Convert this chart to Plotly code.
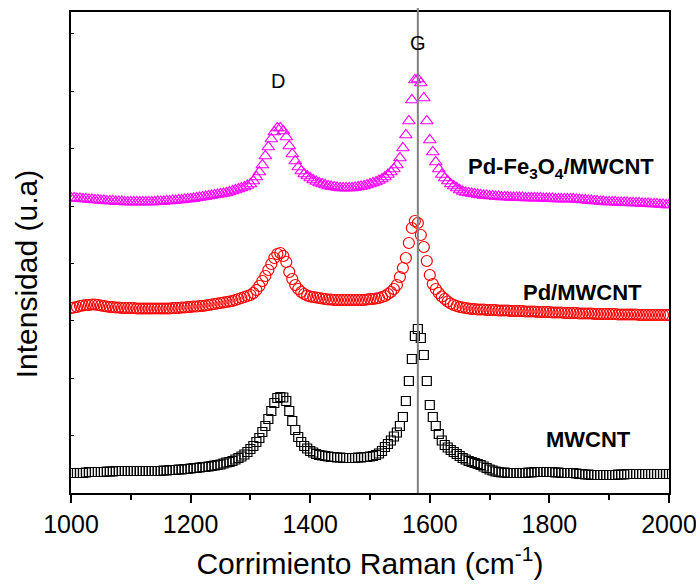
import plotly.graph_objects as go

# Raman shift (cm^-1), 5 cm^-1 spacing
raman_shift = list(range(1000, 2001, 5))

# Stacked intensities (a.u., offset per sample)
mwcnt = [
    20, 20, 20, 20, 20, 20.5, 21, 21, 21, 21,
    21, 21, 21.5, 21.5, 21.5, 22, 22, 22, 22, 22,
    22, 22, 22, 22, 22, 22, 22, 22, 22, 22,
    22, 22.5, 22.5, 23, 23, 23, 23.5, 23.5, 24, 24,
    24.5, 25, 25, 25.5, 26, 26, 26.5, 27, 27.5, 28,
    28.5, 29.5, 30.5, 31, 32, 33.5, 35, 36.5, 38.5, 41,
    44, 47, 51, 55, 61, 67, 74, 82, 90, 95,
    96, 95.5, 92, 82, 72, 63, 56, 51, 47, 44.5,
    42, 40.5, 39, 38, 37.5, 37, 36.5, 36, 36, 35.5,
    35.5, 35, 35, 35, 35, 35, 35.5, 35.5, 36, 36,
    36.5, 37, 38, 39.5, 42, 46, 49, 52.5, 56.5, 60.5,
    67, 76, 92, 112, 134, 157, 164, 155, 138, 112,
    88, 76, 67, 59, 52.5, 48, 45.5, 43, 41, 39,
    37, 35, 33.5, 32, 31, 30, 29, 28, 26.5, 25,
    23.5, 22.5, 21.5, 21, 20.5, 20.5, 20, 20, 20, 20,
    20, 20, 20, 20.5, 20.5, 21, 21, 21, 21, 21,
    21, 21, 20.5, 20.5, 20, 20, 20, 20, 20, 19.5,
    19, 19, 18.5, 18.5, 18, 18, 18, 18, 18, 18,
    18, 18, 18, 18.5, 18.5, 18.5, 19, 19, 19, 19,
    19, 19, 19, 19, 19, 19, 19, 19, 19, 19,
    19,
]

pd_mwcnt = [
    185, 185.5, 186, 187, 187.5, 188, 188, 188.5, 188.5, 188,
    187.5, 187, 186.5, 186, 186, 185.5, 185.5, 185, 185, 185,
    185, 185, 184.5, 184.5, 184.5, 184.5, 184.5, 184.5, 184.5, 184.5,
    184.5, 184.5, 184.5, 184.5, 185, 185, 185, 185.5, 185.5, 186,
    186, 186.5, 186.5, 187, 187, 187.5, 188, 188.5, 189, 189.5,
    190, 190.5, 191, 191.5, 192, 193, 194, 195, 196, 197,
    198, 200, 203, 207, 212, 217, 223, 229, 235, 239,
    240, 237, 231, 221, 214, 208, 204, 201, 199, 197.5,
    196.5, 196, 195.5, 195, 194.5, 194, 193.5, 193.5, 193, 193,
    193, 193, 193, 193, 193, 193, 193, 193, 193, 193.5,
    194, 194, 194.5, 195, 196, 197, 199, 201, 204, 208,
    216, 225, 235, 250, 265, 272, 270, 258, 246, 232,
    218, 209, 204, 200, 196.5, 194, 191.5, 189.5, 188, 187,
    186, 185.5, 185, 184.5, 184, 184, 183.5, 183.5, 183.5, 183,
    183, 183, 183, 182.5, 182.5, 182.5, 182.5, 182, 182, 182,
    182, 182, 181.5, 181.5, 181.5, 181.5, 181, 181, 181, 181,
    181, 180.5, 180.5, 180.5, 180.5, 180, 180, 180, 180, 180,
    179.5, 179.5, 179.5, 179.5, 179.5, 179, 179, 179, 179, 179,
    179, 179, 179, 178.5, 178.5, 178.5, 178.5, 178.5, 178.5, 178.5,
    178, 178, 178, 178, 178, 178, 178, 178, 178, 178,
    178,
]

pd_fe3o4_mwcnt = [
    295, 295, 294.5, 294.5, 294, 294, 293.5, 293.5, 293, 293,
    292.5, 292.5, 292, 292, 292, 291.5, 291.5, 291.5, 291, 291,
    291, 291, 291, 291, 291, 291, 291, 291, 291, 291.5,
    291.5, 291.5, 292, 292, 292.5, 292.5, 293, 293, 293.5, 294,
    294, 294.5, 295, 295.5, 296, 296.5, 297, 297.5, 298, 298.5,
    299, 299.5, 300, 301, 302, 303, 304, 305, 306, 307.5,
    309, 312, 316, 321, 328, 337, 346, 354, 361, 365,
    365, 362, 356, 347, 339, 332, 326, 322, 319, 317,
    315, 313, 311.5, 310, 309, 308, 307, 306.5, 306, 305.5,
    305, 305, 305, 305, 305, 305.5, 306, 306.5, 307, 308,
    309, 310, 311, 312.5, 314, 316, 318.5, 321, 324, 328,
    335, 345, 358, 372, 393, 413, 414, 410, 395, 372,
    353, 341, 331, 324, 318.5, 315, 312, 309, 307, 305,
    303, 301.5, 300.5, 300, 299.5, 299, 298.5, 298, 297.5, 297.5,
    297, 297, 296.5, 296.5, 296, 296, 296, 295.5, 295.5, 295.5,
    295.5, 295.5, 295, 295, 295, 295, 295, 295, 294.5, 294.5,
    294.5, 294.5, 294, 294, 294, 294, 294, 294, 294, 293.5,
    293.5, 293, 293, 292.5, 292.5, 292, 292, 291.5, 291.5, 291,
    291, 291, 291, 290.5, 290.5, 290.5, 290.5, 290, 290, 290,
    290, 289.5, 289.5, 289.5, 289, 289, 289, 288.5, 288.5, 288,
    288,
]

g_band_position = 1580
y_max = 481
y_step = 57.4

FONT = "Arial, Liberation Sans, sans-serif"

fig = go.Figure()

fig.add_trace(go.Scatter(
    x=raman_shift, y=mwcnt, mode="markers", name="MWCNT",
    marker=dict(symbol="square-open", size=9, color="black", line=dict(width=1.2, color="black")),
))
fig.add_trace(go.Scatter(
    x=raman_shift, y=pd_mwcnt, mode="markers", name="Pd/MWCNT",
    marker=dict(symbol="circle-open", size=11, color="#ff0000", line=dict(width=1.2, color="#ff0000")),
))
fig.add_trace(go.Scatter(
    x=raman_shift, y=pd_fe3o4_mwcnt, mode="markers", name="Pd-Fe3O4/MWCNT",
    marker=dict(symbol="triangle-up-open", size=11, color="#ff00ff", line=dict(width=1.2, color="#ff00ff")),
))

# G band reference line
fig.add_shape(type="line", xref="x", yref="paper",
              x0=g_band_position, x1=g_band_position, y0=0, y1=1.0085,
              line=dict(color="#808080", width=2), layer="above")

annotations = [
    dict(text="D", x=1346, y=412, xref="x", yref="y", showarrow=False,
         font=dict(family=FONT, size=20, color="black")),
    dict(text="G", x=g_band_position, y=450, xref="x", yref="y", showarrow=False,
         font=dict(family=FONT, size=20, color="black")),
    dict(text="<b>Pd-Fe<sub>3</sub>O<sub>4</sub>/MWCNT</b>", x=1820, y=325, xref="x", yref="y",
         showarrow=False, font=dict(family=FONT, size=22, color="black")),
    dict(text="<b>Pd/MWCNT</b>", x=1855, y=201, xref="x", yref="y", showarrow=False,
         font=dict(family=FONT, size=22, color="black")),
    dict(text="<b>MWCNT</b>", x=1866, y=54, xref="x", yref="y", showarrow=False,
         font=dict(family=FONT, size=22, color="black")),
    # y-axis title
    dict(text="Intensidad (u.a)", x=-0.075, y=0.455, xref="paper", yref="paper",
         textangle=-90, showarrow=False, xanchor="center", yanchor="middle",
         font=dict(family=FONT, size=30, color="black")),
]

fig.update_layout(
    width=696, height=585,
    margin=dict(l=71, r=27, t=12, b=92, autoexpand=False),
    paper_bgcolor="white", plot_bgcolor="white",
    showlegend=False,
    font=dict(family=FONT, color="black"),
    annotations=annotations,
    xaxis=dict(
        range=[1000, 2000], dtick=200, tick0=1000,
        showgrid=False, zeroline=False, automargin=False,
        showline=True, linecolor="black", linewidth=1.5, mirror=True,
        ticks="outside", ticklen=8, tickwidth=1.5, tickcolor="black",
        minor=dict(dtick=100, tick0=1000, ticks="outside", ticklen=5, tickwidth=1.5, tickcolor="black"),
        tickfont=dict(family=FONT, size=25, color="black"),
        ticklabeloverflow="allow",
        title=dict(text="Corrimiento Raman (cm<sup>-1</sup>)",
                   font=dict(family=FONT, size=30, color="black"), standoff=16),
    ),
    xaxis2=dict(
        range=[1000, 2000], overlaying="x", side="top", anchor="y",
        dtick=100, tick0=1000, ticks="inside", ticklen=3, tickwidth=1, tickcolor="black",
        showticklabels=False, showgrid=False, zeroline=False, showline=False, automargin=False,
    ),
    yaxis=dict(
        range=[0, y_max], tick0=0, dtick=y_step, automargin=False,
        showgrid=False, zeroline=False, showticklabels=False,
        showline=True, linecolor="black", linewidth=1.5, mirror=True,
        ticks="inside", ticklen=3, tickwidth=1, tickcolor="black",
    ),
    yaxis2=dict(
        range=[0, y_max], overlaying="y", side="right", anchor="x", automargin=False,
        tick0=0, dtick=y_step, ticks="inside", ticklen=3, tickwidth=1, tickcolor="black",
        showticklabels=False, showgrid=False, zeroline=False, showline=False,
    ),
)

fig.write_html("out.html")
